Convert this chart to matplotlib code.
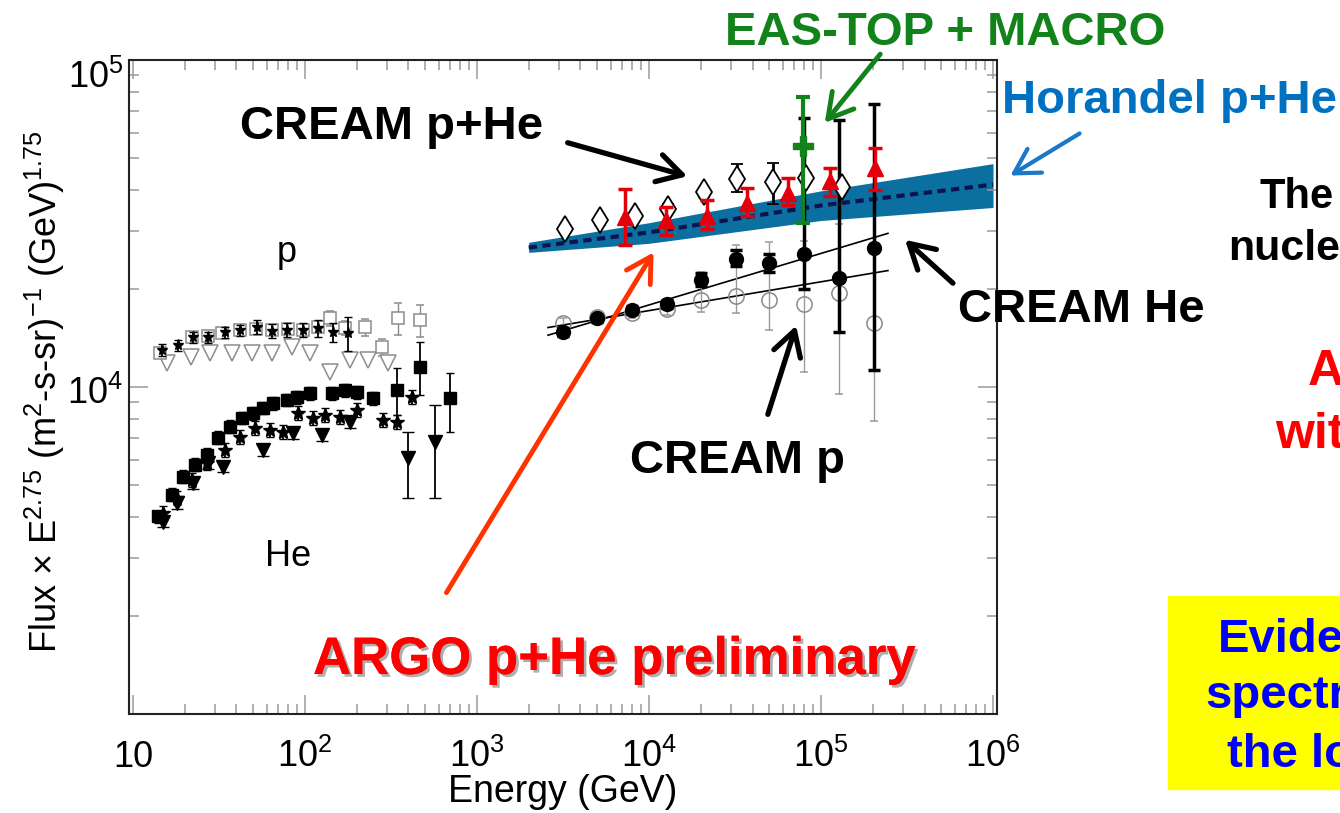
import numpy as np
import matplotlib
matplotlib.use('Agg')
import matplotlib.pyplot as plt
import matplotlib.patheffects as pe
from matplotlib.patches import Rectangle, FancyArrowPatch
from matplotlib.ticker import LogLocator, NullFormatter

plt.rcParams['font.family'] = ['Liberation Sans', 'DejaVu Sans']
plt.rcParams['mathtext.fontset'] = 'custom'
plt.rcParams['mathtext.rm'] = 'Liberation Sans'
plt.rcParams['mathtext.it'] = 'Liberation Sans:italic'
plt.rcParams['mathtext.bf'] = 'Liberation Sans:bold'
plt.rcParams['mathtext.default'] = 'regular'

# ---- low energy direct measurements (p open, He filled) ----
p_star_E = np.array([14.7, 18.3, 22.3, 27.3, 34.3, 41.9, 52.6, 64.3, 78.6, 97.3, 119, 146, 178])
p_star_F = np.array([12970, 13430, 14210, 14210, 14710, 14920, 15240, 14820, 14920, 14920, 15130, 14710, 14610])
p_star_rel = np.array([0.04, 0.04, 0.04, 0.04, 0.04, 0.04, 0.05, 0.05, 0.05, 0.05, 0.06, 0.07, 0.12])

p_sq_E = np.array([14.4, 22.0, 27.3, 32.9, 41.9, 51.9, 64.3, 79.6, 97.3, 119, 140, 171, 223, 281, 347, 467])
p_sq_F = np.array([12700, 14210, 14300, 14610, 14920, 15030, 14920, 15030, 14920, 15240, 16230, 15130, 15240, 13240, 16230, 16010])
p_sq_rel = np.array([0.03, 0.03, 0.03, 0.03, 0.03, 0.03, 0.03, 0.03, 0.04, 0.04, 0.05, 0.05, 0.06, 0.06, 0.11, 0.11])

p_tri_E = np.array([15.7, 21.9, 28.1, 37.5, 49.0, 64.0, 83.8, 107, 140, 183, 232, 304])
p_tri_F = np.array([11840, 12350, 12700, 12700, 12700, 12700, 13240, 12700, 11110, 12090, 12090, 11840])

he_sq_E = np.array([14.0, 16.9, 19.5, 22.9, 26.9, 31.2, 36.6, 43.0, 49.9, 57.0, 65.2, 78.6, 89.8, 107, 143, 171, 201, 248, 343, 467, 697])
he_sq_F = np.array([4018, 4688, 5318, 5786, 6205, 6996, 7554, 8045, 8330, 8630, 8940, 9130, 9320, 9590, 9590, 9790, 9650, 9260, 9790, 11510, 9260])
he_sq_lo = np.array([3850, 4480, 5080, 5520, 5920, 6680, 7210, 7680, 7950, 8240, 8530, 8720, 8900, 9150, 9150, 9340, 9210, 8840, 8220, 9460, 7300])
he_sq_hi = np.array([4190, 4900, 5560, 6050, 6490, 7310, 7900, 8410, 8710, 9020, 9350, 9540, 9740, 10020, 10020, 10230, 10090, 9680, 11430, 13700, 11030])

he_star_E = np.array([14.9, 18.0, 22.0, 26.9, 34.3, 41.9, 51.2, 62.7, 74.5, 91.0, 111, 131, 160, 201, 284, 343, 419])
he_star_F = np.array([4130, 4590, 5207, 5865, 6425, 7040, 7500, 7400, 7290, 8330, 8045, 8220, 8100, 8510, 7930, 7820, 9320])

he_tri_E = np.array([14.9, 18.0, 22.3, 27.3, 33.3, 57.0, 85.1, 126, 183, 397, 570])
he_tri_F = np.array([3876, 4428, 5094, 5865, 5704, 6425, 7240, 7140, 7820, 6076, 6790])
he_tri_lo = np.array([3720, 4250, 4890, 5630, 5480, 6170, 6950, 6850, 7510, 4590, 4590])
he_tri_hi = np.array([4040, 4610, 5300, 6100, 5930, 6680, 7530, 7430, 8130, 7300, 8810])

# ---- high energy ----
hor_E = np.array([2000, 1e4, 1e5, 1e6])
hor_mid = np.array([26700, 29700, 35900, 41600])
hor_lo = np.array([25800, 27500, 32300, 35400])
hor_hi = np.array([27700, 31800, 39800, 48200])

cpe_E = np.array([3250, 5190, 8300, 12900, 20900, 32500, 52500, 81800, 132000])
cpe_F = np.array([30500, 32300, 33400, 35100, 39400, 43400, 42500, 43700, 41000])
cpe_lo = np.array([29600, 31300, 32400, 34000, 38200, 39400, 36400, 42400, 39800])
cpe_hi = np.array([31400, 33300, 34400, 36200, 40600, 48200, 48500, 45000, 42200])

che_E = np.array([3170, 4990, 7960, 12700, 20000, 32100, 49900, 79600, 127000, 203000])
che_F = np.array([14700, 16200, 17200, 17900, 21200, 24700, 24000, 25600, 21500, 26700])
che_lo = np.array([14300, 15800, 16700, 17400, 20300, 23400, 22500, 20000, 14700, 11300])
che_hi = np.array([15100, 16600, 17700, 18400, 22300, 26200, 25600, 66500, 65600, 73500])

cp_F = np.array([15640, 16370, 16790, 17270, 18410, 18930, 18410, 17910, 19320, 15710])
cp_lo = np.array([15100, 15800, 16200, 16600, 16900, 16800, 14900, 11100, 9500, 7870])
cp_hi = np.array([16200, 16900, 17400, 18000, 22400, 27100, 27700, 28000, 31600, 40000])

fit_E = np.array([2590, 245000])
fit_he = np.array([14400, 29500])
fit_p = np.array([15200, 22700])

argo_E = np.array([7240, 12600, 21700, 37200, 64300, 112700, 206000])
argo_F = np.array([33000, 32300, 33400, 36600, 39300, 42800, 46900])
argo_lo = np.array([27100, 29100, 30500, 33400, 35900, 38500, 39900])
argo_hi = np.array([40400, 35400, 37200, 40700, 43700, 46900, 54000])

eas_E = np.array([78500])
eas_F = np.array([54700])
eas_lo = np.array([31800])
eas_hi = np.array([77100])

xtick_vals = [10, 1e2, 1e3, 1e4, 1e5, 1e6]
xtick_labels = ['10', '$10^{2}$', '$10^{3}$', '$10^{4}$', '$10^{5}$', '$10^{6}$']
ytick_vals = [1e4, 1e5]
ytick_labels = ['$10^{4}$', '$10^{5}$']

W, H = 1340, 813
fig = plt.figure(figsize=(W / 100, H / 100), dpi=100)


def fp(x, y):
    # slide pixel (top-left origin) -> figure fraction
    return (x / W, 1 - y / H)


ax = fig.add_axes([129 / W, 1 - 714 / H, (997 - 129) / W, (714 - 60) / H])
ax.set_xscale('log')
ax.set_yscale('log')
ax.set_xlim(9.5, 1.055e6)
ax.set_ylim(1000, 1e5)

ax.xaxis.set_major_locator(LogLocator(base=10, numticks=20))
ax.xaxis.set_minor_locator(LogLocator(base=10, subs=np.arange(2, 10), numticks=100))
ax.yaxis.set_major_locator(LogLocator(base=10, numticks=20))
ax.yaxis.set_minor_locator(LogLocator(base=10, subs=np.arange(2, 10), numticks=100))
ax.xaxis.set_minor_formatter(NullFormatter())
ax.yaxis.set_minor_formatter(NullFormatter())
ax.tick_params(which='both', direction='in', top=True, right=True,
               labelbottom=False, labelleft=False, color='#9a9a9a', width=1.1)
ax.tick_params(which='major', length=14)
ax.tick_params(which='minor', length=7)
for s in ax.spines.values():
    s.set_linewidth(1.5)
    s.set_color('#222222')

# low energy data
ax.errorbar(p_sq_E, p_sq_F, yerr=p_sq_F * p_sq_rel, fmt='s', ms=8, mfc='white', mec='#8c8c8c',
            mew=1.1, ecolor='#8c8c8c', elinewidth=1, capsize=3, zorder=2)
ax.plot(p_tri_E, p_tri_F, 'v', ms=12, mfc='white', mec='#8c8c8c', mew=1.1, zorder=2)
ax.errorbar(p_star_E, p_star_F, yerr=p_star_F * p_star_rel, fmt='*', ms=8, color='black',
            elinewidth=1.3, capsize=3, zorder=3)
ax.errorbar(he_sq_E, he_sq_F, yerr=[he_sq_F - he_sq_lo, he_sq_hi - he_sq_F], fmt='s', ms=8,
            color='black', elinewidth=1.3, capsize=3, zorder=3)
ax.errorbar(he_star_E, he_star_F, yerr=he_star_F * 0.05, fmt='*', ms=10, color='black',
            elinewidth=1.3, capsize=3, zorder=3)
ax.errorbar(he_tri_E, he_tri_F, yerr=[he_tri_F - he_tri_lo, he_tri_hi - he_tri_F], fmt='v', ms=10,
            color='black', elinewidth=1.3, capsize=4, zorder=3)

# high energy
ax.fill_between(hor_E, hor_lo, hor_hi, color='#0b70a0', lw=0, zorder=1)
ax.plot(hor_E, hor_mid, color='#0c1450', lw=3, ls=(0, (2, 1.3)), zorder=1.5)

ax.plot(fit_E, fit_he, color='black', lw=1.2, zorder=2)
ax.plot(fit_E, fit_p, color='black', lw=1.2, zorder=2)

ax.errorbar(che_E, cp_F, yerr=[cp_F - cp_lo, cp_hi - cp_F], fmt='o', ms=11, mfc='none', mec='#8a8a8a',
            mew=1.1, ecolor='#9a9a9a', elinewidth=1, capsize=3, zorder=2)
ax.errorbar(che_E, che_F, yerr=[che_F - che_lo, che_hi - che_F], fmt='o', ms=10, color='black',
            elinewidth=2.5, capsize=4, capthick=2.5, zorder=4)
ax.errorbar(cpe_E, cpe_F, yerr=[cpe_F - cpe_lo, cpe_hi - cpe_F], fmt='d', ms=13, mfc='white', mec='black',
            mew=1.3, ecolor='black', elinewidth=2, capsize=4, capthick=2, zorder=4)
ax.errorbar(argo_E, argo_F, yerr=[argo_F - argo_lo, argo_hi - argo_F], fmt='^', ms=12, color='#e3000b',
            elinewidth=2.5, capsize=5, capthick=2.5, zorder=6)
ax.errorbar(eas_E, eas_F, yerr=[eas_F - eas_lo, eas_hi - eas_F], fmt='P', ms=15, color='#12821a',
            elinewidth=3, capsize=5, capthick=3, zorder=7)

# tick labels (ROOT style)
for v, lab in zip(xtick_vals, xtick_labels):
    ax.annotate(lab, xy=(v, 0), xycoords=('data', 'axes fraction'), xytext=(0, -53),
                textcoords='offset pixels', ha='center', va='baseline', fontsize=26,
                annotation_clip=False)
for v, lab, dy in zip(ytick_vals, ytick_labels, [-17, -28]):
    ax.annotate(lab, xy=(0, v), xycoords=('axes fraction', 'data'), xytext=(-6, dy),
                textcoords='offset pixels', ha='right', va='baseline', fontsize=26,
                annotation_clip=False)

fig.text(*fp(563, 802), 'Energy (GeV)', fontsize=27, ha='center', va='baseline')
fig.text(*fp(45, 392), r'Flux $\times$ E$^{2.75}$ (m$^{2}$-s-sr)$^{-1}$ (GeV)$^{1.75}$',
         fontsize=26, rotation=90, ha='center', va='center')

fig.text(*fp(277, 262), 'p', fontsize=26, ha='left', va='baseline')
fig.text(*fp(265, 566), 'He', fontsize=26, ha='left', va='baseline')

# slide annotations
bold = dict(fontweight='bold', va='baseline', ha='left')
fig.text(*fp(725, 45), 'EAS-TOP + MACRO', color='#12821a', fontsize=34, **bold)
fig.text(*fp(1002, 113), 'Horandel p+He', color='#0070c0', fontsize=34, **bold)
fig.text(*fp(240, 139), 'CREAM p+He', color='black', fontsize=34, **bold)
fig.text(*fp(958, 322), 'CREAM He', color='black', fontsize=34, **bold)
fig.text(*fp(630, 473), 'CREAM p', color='black', fontsize=34, **bold)
fig.text(*fp(1260, 208), 'The', color='black', fontsize=30, **bold)
fig.text(*fp(1228, 260), 'nuclei', color='black', fontsize=31, **bold)
fig.text(*fp(1308, 385), 'A', color='#ff0000', fontsize=36, **bold)
fig.text(*fp(1275, 448), 'with', color='#ff0000', fontsize=36, **bold)
fig.text(*fp(313, 674), 'ARGO p+He preliminary', color='#ff0000', fontsize=38,
         path_effects=[pe.withSimplePatchShadow(offset=(2, -2), shadow_rgbFace='#9a9a9a', alpha=0.8),
                       pe.Normal()], **bold)

fig.add_artist(Rectangle(fp(1168, 789), (1360 - 1168) / W, (789 - 596) / H,
                         transform=fig.transFigure, color='#ffff00', zorder=0))
fig.text(*fp(1218, 652), 'Evidence', color='#0000ff', fontsize=34, **bold)
fig.text(*fp(1205, 708), 'spectral', color='#0000ff', fontsize=34, **bold)
fig.text(*fp(1227, 767), 'the low', color='#0000ff', fontsize=34, **bold)


def arrow(tail, head, color, lw):
    a = FancyArrowPatch(fp(*tail), fp(*head), transform=fig.transFigure,
                        arrowstyle='->,head_length=0.7,head_width=0.4', mutation_scale=25,
                        color=color, lw=lw, zorder=10)
    fig.add_artist(a)


arrow((565, 142), (690, 177), 'black', 3.8)
arrow((955, 285), (903, 238), 'black', 3.8)
arrow((767, 417), (797, 323), 'black', 3.8)
arrow((882, 52), (823, 125), '#12821a', 3.5)
arrow((1082, 132), (1008, 177), '#1a78c8', 3.0)
arrow((445, 595), (655, 250), '#ff3300', 3.5)

fig.savefig('out.png', dpi=100)
